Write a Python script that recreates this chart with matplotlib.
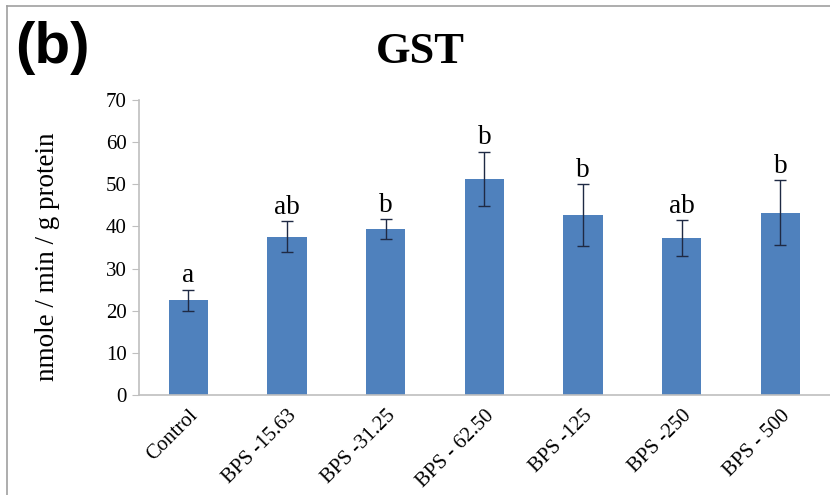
#!/usr/bin/env python3
"""GST activity bar chart, panel (b)."""

import matplotlib
matplotlib.use("Agg")
import matplotlib.pyplot as plt
from matplotlib.lines import Line2D

categories = ["Control", "BPS -15.63", "BPS -31.25", "BPS - 62.50",
              "BPS -125", "BPS -250", "BPS - 500"]
means = [22.5, 37.6, 39.4, 51.3, 42.7, 37.2, 43.3]
errors = [2.5, 3.7, 2.3, 6.4, 7.3, 4.3, 7.6]
letters = ["a", "ab", "b", "b", "b", "ab", "b"]
y_ticks = [0, 10, 20, 30, 40, 50, 60, 70]

BAR_COLOR = "#4F81BD"
AXIS_COLOR = "#BFBFBF"
SERIF = ["Liberation Serif", "DejaVu Serif"]

fig = plt.figure(figsize=(8.3, 4.95), dpi=100)
ax = fig.add_axes([0.1675, 0.202, 0.832, 0.596])

x = list(range(len(categories)))
ax.bar(x, means, width=0.4, color=BAR_COLOR, zorder=2)
ax.errorbar(x, means, yerr=errors, fmt="none", ecolor="#1F2A44",
            elinewidth=1.0, capsize=4, capthick=1.0, zorder=3)

for xi, m, e, lab in zip(x, means, errors, letters):
    ax.annotate(lab, (xi, m + e), xytext=(0, 1), textcoords="offset points",
                ha="center", va="bottom", fontsize=19.5, family=SERIF)

ax.set_xlim(-0.5, len(categories) - 0.5)
ax.set_ylim(0, 70)
ax.set_yticks(y_ticks)
ax.set_yticklabels([str(v) for v in y_ticks], family=SERIF, fontsize=15)
ax.set_xticks(x)
ax.set_xticklabels(categories, rotation=45, ha="right", rotation_mode="anchor",
                   family=SERIF, fontsize=15)
ax.tick_params(axis="x", length=0, pad=8)
ax.tick_params(axis="y", length=5, color=AXIS_COLOR, pad=4)
ax.set_ylabel("nmole / min / g protein", family=SERIF, fontsize=19.5)
ax.yaxis.set_label_coords(-0.114, 0.47)

for side in ("top", "right"):
    ax.spines[side].set_visible(False)
for side in ("left", "bottom"):
    ax.spines[side].set_color(AXIS_COLOR)
    ax.spines[side].set_linewidth(1.2)

fig.text(0.018, 0.903, "(b)", family=["Liberation Sans", "DejaVu Sans"],
         fontweight="bold", fontsize=42, ha="left", va="center")
fig.text(0.506, 0.873, "GST", family=SERIF, fontweight="bold", fontsize=32,
         ha="center", va="baseline")

# outer frame lines (top and left only, the rest is cropped)
fig.add_artist(Line2D([0.0085, 1.0], [0.988, 0.988], color="#A0A0A0", lw=1.2,
                      transform=fig.transFigure))
fig.add_artist(Line2D([0.0085, 0.0085], [0.0, 0.988], color="#A0A0A0", lw=1.2,
                      transform=fig.transFigure))

fig.savefig("out.png", dpi=100)
